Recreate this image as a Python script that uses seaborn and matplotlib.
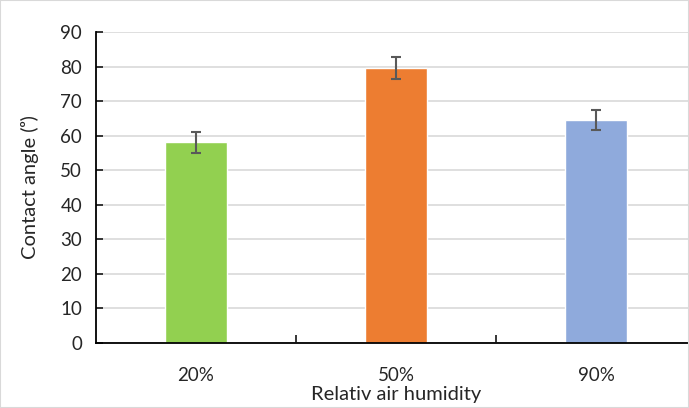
import seaborn as sns
import pandas as pd
import matplotlib.pyplot as plt
import numpy as np

humidity = ["20%", "50%", "90%"]
angle = [58.1, 79.6, 64.5]
angle_err = [3.1, 3.2, 3.0]
bar_colors = ["#92D050", "#ED7D31", "#8FAADC"]

sns.set_style("white")
plt.rcParams['font.family'] = ['Lato', 'DejaVu Sans']

data = pd.DataFrame({"humidity": humidity, "angle": angle})

fig = plt.figure(figsize=(6.89, 4.08), dpi=100)
ax = fig.add_axes([96/689, 65/408, 600/689, 311/408])

sns.barplot(data=data, x="humidity", y="angle", hue="humidity",
			palette=bar_colors, width=0.31, legend=False, ax=ax,
			saturation=1, errorbar=None)
ax.errorbar(np.arange(len(humidity)), angle, yerr=angle_err, fmt="none",
			ecolor="#595959", elinewidth=1.5, capsize=3.5, capthick=1.5)

ax.set_ylim(0, 90)
ax.set_xlim(-0.5, 2.5)
ax.set_yticks(np.arange(0, 91, 10))
ax.yaxis.grid(True, color="#D9D9D9", linewidth=1.2)
ax.set_axisbelow(True)

for s in ["top", "right"]:
	ax.spines[s].set_visible(False)
for s in ["left", "bottom"]:
	ax.spines[s].set_color("black")
	ax.spines[s].set_linewidth(1.3)

ax.tick_params(axis="y", direction="in", length=5, width=1.3, labelsize=13.5, pad=10, left=True)
ax.tick_params(axis="x", which="major", length=0, labelsize=13.5, pad=17)
ax.set_xticks([0.5, 1.5], minor=True)
ax.tick_params(axis="x", which="minor", direction="in", length=6, width=1.3, bottom=True)

ax.set_xlabel("Relativ air humidity", fontsize=14.5, labelpad=2)
ax.set_ylabel("Contact angle (ᵒ)", fontsize=14.5, labelpad=15)

fig.patches.append(plt.Rectangle((0, 0), 1, 1, transform=fig.transFigure,
								 fill=False, edgecolor="#D9D9D9", linewidth=1.5))

fig.savefig("out.png", dpi=100)
